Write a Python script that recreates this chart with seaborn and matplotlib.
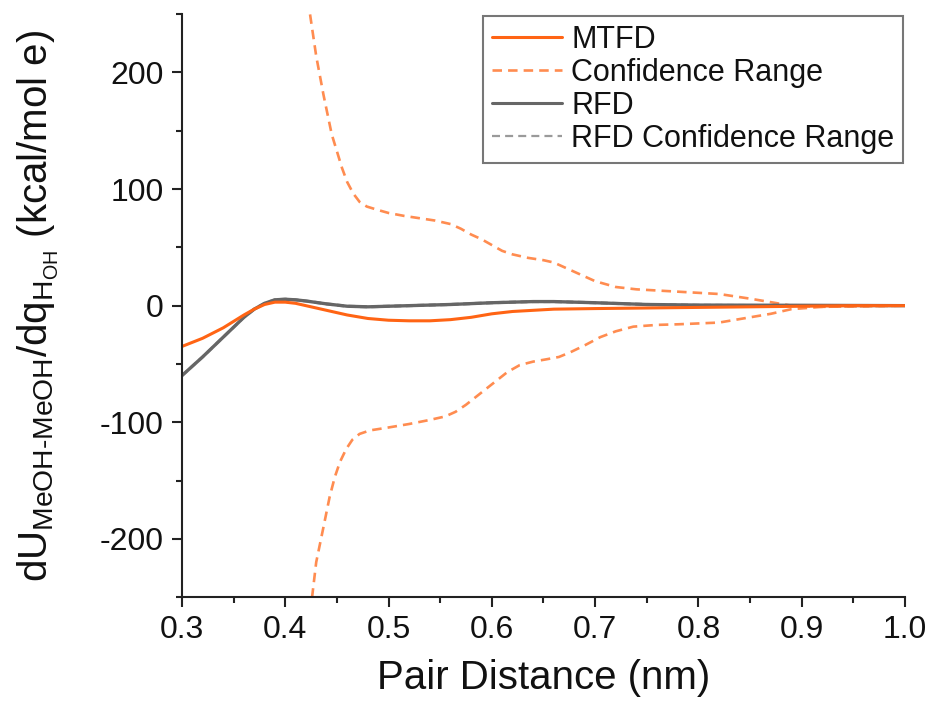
import numpy as np
import pandas as pd
import matplotlib
matplotlib.use("Agg")
import matplotlib.pyplot as plt
import seaborn as sns
from matplotlib.ticker import MultipleLocator

# ---------------- data ----------------
mtfd_x = [0.30, 0.32, 0.34, 0.36, 0.37, 0.38, 0.39, 0.40, 0.41, 0.42, 0.44, 0.46,
          0.48, 0.50, 0.52, 0.54, 0.56, 0.58, 0.60, 0.62, 0.64, 0.66, 0.70, 0.75,
          0.80, 0.85, 0.90, 0.95, 1.00]
mtfd_y = [-35, -28, -19, -8, -3, 1, 3, 3, 2, 0, -4, -8,
          -11, -12.5, -13, -13, -12, -10, -7, -5, -4, -3, -2.5, -2,
          -1.5, -1, -0.5, 0, 0]

ci_up_x = [0.415, 0.42, 0.424, 0.43, 0.437, 0.445, 0.455, 0.46, 0.466, 0.472, 0.479,
           0.49, 0.50, 0.515, 0.53, 0.545, 0.56, 0.57, 0.58, 0.59, 0.60, 0.61,
           0.62, 0.635, 0.65, 0.66, 0.67, 0.68, 0.69, 0.70, 0.72, 0.74, 0.78, 0.82,
           0.85, 0.87, 0.89, 0.92, 0.96, 1.00]
ci_up_y = [305, 275, 250, 214, 181, 147, 118, 106, 96, 89, 85,
           82, 79.5, 77, 75, 73, 70, 66, 61, 57, 52, 47,
           44, 41, 39, 37, 33, 29, 25, 21, 16, 14, 12, 10,
           6, 3, 0, -1, -0.5, 0]

ci_lo_x = [0.415, 0.42, 0.426, 0.43, 0.437, 0.443, 0.448, 0.453, 0.459, 0.465, 0.472,
           0.482, 0.50, 0.52, 0.54, 0.555, 0.565, 0.575, 0.585, 0.595, 0.605, 0.615,
           0.627, 0.64, 0.653, 0.665, 0.676, 0.69, 0.705, 0.72, 0.737, 0.76, 0.78,
           0.82, 0.85, 0.87, 0.89, 0.92, 0.96, 1.00]
ci_lo_y = [-330, -295, -250, -220, -190, -164, -147, -134, -123, -115, -110,
           -107, -104.5, -101.5, -98, -95, -91, -85, -78, -71, -64, -57,
           -51, -48, -46, -44, -40, -34, -27, -22, -18, -16.5, -16,
           -14.5, -10, -7, -3, -1, -0.5, 0]

rfd_x = [0.30, 0.32, 0.34, 0.36, 0.37, 0.38, 0.39, 0.40, 0.41, 0.42, 0.44, 0.46,
         0.48, 0.50, 0.52, 0.56, 0.60, 0.64, 0.66, 0.70, 0.75, 0.80, 0.90, 1.00]
rfd_y = [-60, -44, -27, -10, -3, 2, 5, 5.5, 5, 4, 1.5, -0.5,
         -1, -0.5, 0, 1, 2.5, 3.5, 3.5, 2.5, 1, 0.5, 0.3, 0]
rfd_ci_up_y = [-59.5, -43.5, -26.5, -9.5, -2.5, 2.5, 5.5, 6, 5.5, 4.5, 2, 0,
               -0.5, 0, 0.5, 1.5, 3, 4, 4, 3, 1.5, 0.8, 0.4, 0]
rfd_ci_lo_y = [-60.5, -44.5, -27.5, -10.5, -3.5, 1.5, 4.5, 5, 4.5, 3.5, 1, -1,
               -1.5, -1, -0.5, 0.5, 2, 3, 3, 2, 0.5, 0.2, 0.2, 0]

legend_labels = ["MTFD", "Confidence Range", "RFD", "RFD Confidence Range"]
x_ticks = [0.3, 0.4, 0.5, 0.6, 0.7, 0.8, 0.9, 1.0]
y_ticks = [-200, -100, 0, 100, 200]

# ---------------- style ----------------
sns.set_style("ticks")
plt.rcParams["font.family"] = ["Liberation Sans", "DejaVu Sans"]
plt.rcParams["mathtext.fontset"] = "custom"
plt.rcParams["mathtext.rm"] = "Liberation Sans"
plt.rcParams["mathtext.it"] = "Liberation Sans:italic"
plt.rcParams["mathtext.bf"] = "Liberation Sans:bold"

ORANGE = "#FF6414"
ORANGE_D = "#FF8C50"
GRAY = "#666666"
GRAY_D = "#9A9A9A"

fig = plt.figure(figsize=(9.33, 7.10), dpi=100)
ax = fig.add_axes([0.195, 0.159, 0.775, 0.821])

dash = (0, (3.6, 2.3))
sns.lineplot(x=rfd_x, y=rfd_ci_up_y, ax=ax, color=GRAY_D, lw=1.4, linestyle=dash)
sns.lineplot(x=rfd_x, y=rfd_ci_lo_y, ax=ax, color=GRAY_D, lw=1.4, linestyle=dash)
sns.lineplot(x=ci_up_x, y=ci_up_y, ax=ax, color=ORANGE_D, lw=1.9, linestyle=dash)
sns.lineplot(x=ci_lo_x, y=ci_lo_y, ax=ax, color=ORANGE_D, lw=1.9, linestyle=dash)
sns.lineplot(x=rfd_x, y=rfd_y, ax=ax, color=GRAY, lw=2.4)
sns.lineplot(x=mtfd_x, y=mtfd_y, ax=ax, color=ORANGE, lw=2.2)

ax.set_xlim(0.3, 1.0)
ax.set_ylim(-250, 250)
ax.set_xticks(x_ticks)
ax.set_xticklabels([f"{v:.1f}" for v in x_ticks])
ax.set_yticks(y_ticks)
ax.set_yticklabels([str(v) for v in y_ticks])
ax.xaxis.set_minor_locator(MultipleLocator(0.05))
ax.yaxis.set_minor_locator(MultipleLocator(50))

for s in ["top", "right"]:
    ax.spines[s].set_visible(False)
for s in ["left", "bottom"]:
    ax.spines[s].set_linewidth(1.5)
    ax.spines[s].set_color("#222222")

ax.tick_params(axis="both", which="major", direction="out", length=7, width=1.5,
               labelsize=23, colors="#222222", pad=6)
ax.tick_params(axis="both", which="minor", direction="out", length=4, width=1.5,
               colors="#222222")
for lab in ax.get_xticklabels() + ax.get_yticklabels():
    lab.set_color("#111111")

ax.set_xlabel("Pair Distance (nm)", fontsize=29, color="#111111", labelpad=10)
ax.set_ylabel(r"$\mathregular{dU_{MeOH\text{-}MeOH}/dq_{H_{OH}}}$ (kcal/mol e)",
              fontsize=29, color="#111111", labelpad=28)

handles = [
    plt.Line2D([], [], color=ORANGE, lw=2.2),
    plt.Line2D([], [], color=ORANGE_D, lw=1.9, linestyle=dash),
    plt.Line2D([], [], color=GRAY, lw=2.2),
    plt.Line2D([], [], color=GRAY_D, lw=1.6, linestyle=dash),
]
leg = ax.legend(handles, legend_labels, loc="upper right", bbox_to_anchor=(1.0, 1.0),
                fontsize=22, frameon=True, fancybox=False, handlelength=2.3,
                handletextpad=0.3, labelspacing=0.1, borderpad=0.3,
                borderaxespad=0.05)
leg.get_frame().set_edgecolor("#555555")
leg.get_frame().set_linewidth(1.5)
for t in leg.get_texts():
    t.set_color("#111111")

fig.savefig("out.png", dpi=100)
